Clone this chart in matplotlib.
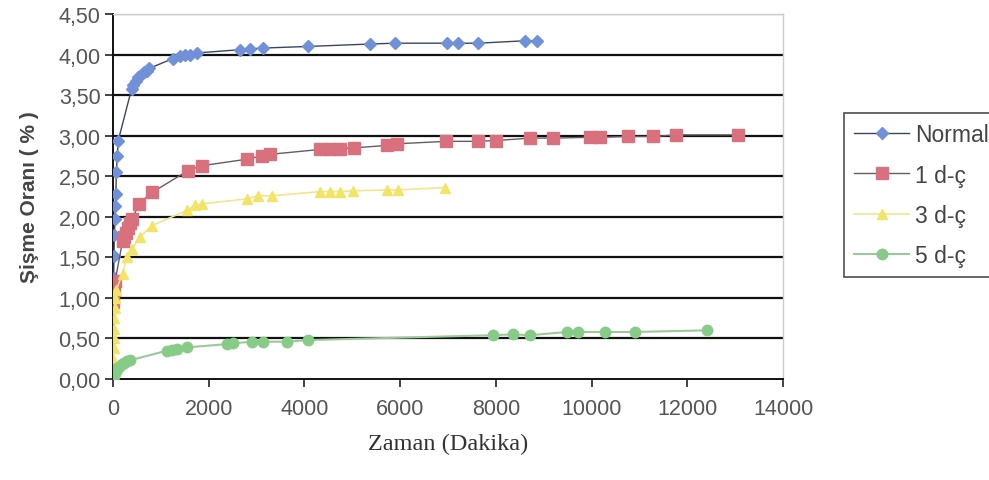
import matplotlib
matplotlib.use("Agg")
import matplotlib.pyplot as plt
from matplotlib.ticker import FuncFormatter, MultipleLocator

# Swelling ratio (%) vs. time (minutes)
normal_t = [15, 20, 30, 40, 50, 60, 70, 90, 110, 390, 420, 480, 530, 580, 640, 700, 760,
            1250, 1400, 1500, 1610, 1760, 2650, 2860, 3130, 4080, 5370, 5890, 6980,
            7210, 7630, 8610, 8860]
normal_y = [1.25, 1.52, 1.77, 1.97, 2.13, 2.28, 2.55, 2.75, 2.94, 3.58, 3.62, 3.68, 3.72,
            3.75, 3.78, 3.80, 3.83, 3.95, 3.98, 3.99, 4.00, 4.02, 4.06, 4.07, 4.08, 4.10,
            4.13, 4.14, 4.14, 4.14, 4.14, 4.17, 4.17]

dc1_t = [10, 30, 45, 200, 240, 280, 320, 360, 400, 540, 815, 1570, 1860, 2800, 3110, 3280,
         4330, 4530, 4740, 5040, 5730, 5940, 6960, 7630, 8000, 8720, 9200, 9970, 10180,
         10760, 11290, 11770, 13060]
dc1_y = [0.95, 1.10, 1.21, 1.70, 1.75, 1.80, 1.86, 1.92, 1.97, 2.16, 2.30, 2.57, 2.63, 2.71,
         2.75, 2.77, 2.83, 2.84, 2.84, 2.85, 2.88, 2.90, 2.93, 2.93, 2.94, 2.97, 2.97,
         2.98, 2.98, 2.99, 2.99, 3.01, 3.01]

dc3_t = [5, 10, 15, 20, 25, 30, 40, 50, 70, 200, 290, 400, 560, 810, 1550, 1710, 1860,
         2800, 3030, 3320, 4330, 4530, 4740, 5020, 5730, 5960, 6940]
dc3_y = [0.12, 0.25, 0.38, 0.50, 0.62, 0.75, 0.88, 1.00, 1.10, 1.30, 1.50, 1.60, 1.75,
         1.89, 2.08, 2.14, 2.16, 2.22, 2.26, 2.26, 2.31, 2.31, 2.31, 2.32, 2.33, 2.33, 2.36]

dc5_t = [0, 20, 40, 60, 90, 130, 180, 240, 300, 355, 1130, 1240, 1340, 1550, 2380, 2510,
         2900, 3140, 3640, 4080, 7940, 8360, 8720, 9490, 9720, 10280, 10910, 12420]
dc5_y = [0.00, 0.04, 0.07, 0.10, 0.13, 0.15, 0.18, 0.20, 0.22, 0.23, 0.35, 0.36, 0.37,
         0.39, 0.43, 0.44, 0.46, 0.46, 0.46, 0.48, 0.54, 0.55, 0.54, 0.58, 0.58, 0.58,
         0.58, 0.60]

labels = ["Normal", "1 d-\u00e7", "3 d-\u00e7", "5 d-\u00e7"]

plt.rcParams["font.family"] = ["Liberation Sans", "DejaVu Sans"]

fig = plt.figure(figsize=(9.89, 4.81), dpi=100)
ax = fig.add_axes([113 / 989, 101 / 481, 670 / 989, 365 / 481])

ax.plot(normal_t, normal_y, color="#3c4560", lw=1.0, marker="D", ms=6.5,
        mfc="#7090d8", mec="#7090d8", label=labels[0], zorder=4)
ax.plot(dc1_t, dc1_y, color="#6a5a5e", lw=1.0, marker="s", ms=8,
        mfc="#d8707e", mec="#d8707e", label=labels[1], zorder=4)
ax.plot(dc3_t, dc3_y, color="#ece890", lw=1.2, marker="^", ms=7.5,
        mfc="#f2e466", mec="#f2e466", label=labels[2], zorder=4)
ax.plot(dc5_t, dc5_y, color="#9cc89c", lw=1.5, marker="o", ms=7.5,
        mfc="#86cc86", mec="#86cc86", label=labels[3], zorder=4)

ax.set_xlim(0, 14000)
ax.set_ylim(0, 4.5)
ax.xaxis.set_major_locator(MultipleLocator(2000))
ax.yaxis.set_major_locator(MultipleLocator(0.5))
ax.yaxis.set_major_formatter(FuncFormatter(lambda v, p: f"{v:.2f}".replace(".", ",")))

for v in [0.5, 1.0, 1.5, 2.0, 2.5, 3.0, 3.5, 4.0]:
    ax.axhline(v, color="#111111", lw=1.6, zorder=1)
ax.axhline(4.5, color="#bbbbbb", lw=1.0, zorder=1)

for s in ["top", "right"]:
    ax.spines[s].set_color("#cccccc")
    ax.spines[s].set_linewidth(1.0)
for s in ["left", "bottom"]:
    ax.spines[s].set_color("#111111")
    ax.spines[s].set_linewidth(1.4)

ax.tick_params(axis="both", direction="out", length=6, width=1.2, color="#222222",
               labelsize=15.5, labelcolor="#555555")
ax.tick_params(axis="x", pad=8)
ax.tick_params(axis="y", pad=3)

ax.set_ylabel("\u015ei\u015fme Oran\u0131 ( % )", fontsize=15, fontweight="bold",
              color="#444444", labelpad=14)
ax.set_xlabel("Zaman (Dakika)", fontsize=17.5, family="Liberation Serif",
              color="#333333", labelpad=10)

leg = fig.legend(loc="upper left", bbox_to_anchor=(844 / 989, (481 - 114) / 481),
                 frameon=True, fancybox=False, edgecolor="#222222", fontsize=16.5,
                 labelcolor="#444444", handlelength=2.4, borderpad=0.45,
                 labelspacing=0.75, handletextpad=0.25, borderaxespad=0)
leg.get_frame().set_linewidth(1.2)

fig.savefig("out.png", dpi=100, facecolor="white")
